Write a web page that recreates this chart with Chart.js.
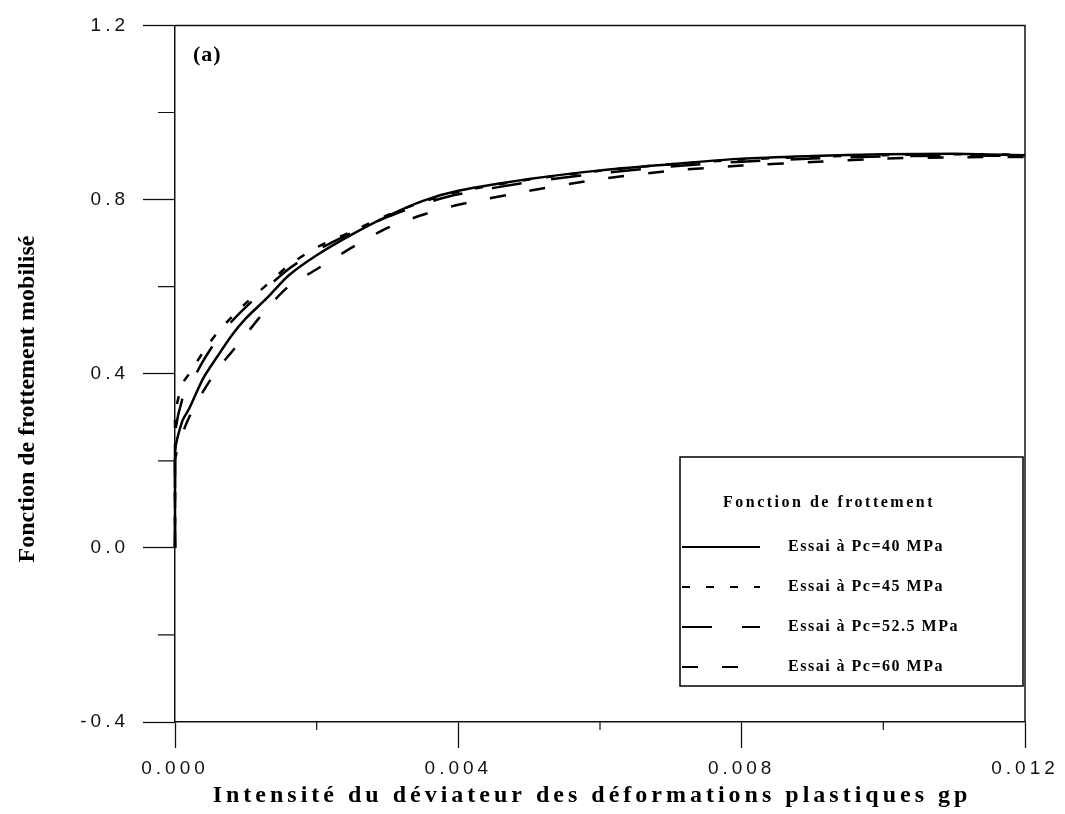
<!DOCTYPE html>
<html>
<head>
<meta charset="utf-8">
<script src="https://cdn.jsdelivr.net/npm/chart.js@4.4.1/dist/chart.umd.min.js"></script>
<style>
  html, body { margin: 0; padding: 0; background: #fff; }
</style>
</head>
<body>
<canvas id="frottement" width="1065" height="814"></canvas>
<script>
// deformation plastique gp (x) et fonction de frottement (y) pour chaque essai
const gp = [0, 0, 0.0001, 0.0002, 0.0004, 0.0006, 0.0008, 0.001, 0.0013, 0.0016, 0.002, 0.0025,
            0.003, 0.0035, 0.004, 0.005, 0.006, 0.007, 0.008, 0.009, 0.01, 0.011, 0.012];
const pc40  = [0, 0.22, 0.29, 0.32, 0.39, 0.44, 0.488, 0.527, 0.574, 0.625, 0.672, 0.72,
               0.762, 0.797, 0.82, 0.847, 0.867, 0.881, 0.894, 0.9, 0.904, 0.905, 0.902];
const pc45  = [0, 0.3, 0.375, 0.4, 0.45, 0.495, 0.53, 0.562, 0.605, 0.648, 0.69, 0.727,
               0.764, 0.795, 0.818, 0.846, 0.866, 0.881, 0.892, 0.898, 0.902, 0.904, 0.903];
const pc525 = [0, 0.26, 0.34, 0.37, 0.43, 0.48, 0.52, 0.553, 0.598, 0.64, 0.683, 0.724,
               0.76, 0.79, 0.812, 0.84, 0.86, 0.876, 0.887, 0.894, 0.899, 0.901, 0.9];
const pc60  = [0, 0.2, 0.26, 0.3, 0.36, 0.41, 0.45, 0.49, 0.55, 0.6, 0.64, 0.69,
               0.735, 0.765, 0.788, 0.82, 0.847, 0.866, 0.878, 0.886, 0.894, 0.897, 0.898];

const seriesNames = ["Essai à Pc=40 MPa", "Essai à Pc=45 MPa", "Essai à Pc=52.5 MPa", "Essai à Pc=60 MPa"];
const xTickValues = [0, 0.004, 0.008, 0.012];
const yTickValues = [-0.4, 0, 0.4, 0.8, 1.2];
const xMinorValues = [0.002, 0.006, 0.01];
const yMinorValues = [-0.2, 0.2, 0.6, 1.0];

const xTitle = "Intensité du déviateur des déformations plastiques gp";
const yTitle = "Fonction de frottement mobilisé";
const legendTitle = "Fonction de frottement";
const panelLabel = "(a)";

const serif = "'Liberation Serif', 'Times New Roman', serif";
const sans = "'Liberation Sans', Arial, sans-serif";

function points(ys) {
    return gp.map((x, i) => ({x: x, y: ys[i]}));
}

function line(label, ys, dash) {
    return {
        label: label,
        data: points(ys),
        showLine: true,
        borderColor: '#000',
        borderWidth: 2.5,
        borderDash: dash,
        pointRadius: 0,
        tension: 0.25,
        clip: 3
    };
}

// graduations secondaires, cadre, titres d'axes, "(a)" et legende encadree
const decor = {
    id: 'decor',
    beforeDraw(chart) {
        chart.ctx.letterSpacing = '4px';
    },
    afterDraw(chart) {
        const ctx = chart.ctx;
        const a = chart.chartArea;
        const xs = chart.scales.x, ys = chart.scales.y;
        ctx.save();
        ctx.strokeStyle = '#111';
        ctx.lineWidth = 1.5;
        ctx.beginPath();
        ctx.moveTo(a.left, a.top);
        ctx.lineTo(a.right, a.top);
        ctx.lineTo(a.right, a.bottom);
        ctx.stroke();

        ctx.lineWidth = 1.2;
        ctx.beginPath();
        xMinorValues.forEach(v => {
            const px = xs.getPixelForValue(v);
            ctx.moveTo(px, a.bottom);
            ctx.lineTo(px, a.bottom + 8);
        });
        yMinorValues.forEach(v => {
            const py = ys.getPixelForValue(v);
            ctx.moveTo(a.left, py);
            ctx.lineTo(a.left - 17, py);
        });
        ctx.stroke();

        ctx.fillStyle = '#000';
        ctx.textBaseline = 'middle';
        ctx.textAlign = 'center';
        ctx.letterSpacing = '4px';
        ctx.font = "bold 24px " + serif;
        ctx.fillText(xTitle, (a.left + a.right) / 2 - 8, 796);

        ctx.save();
        ctx.letterSpacing = '0px';
        ctx.font = "bold 24px " + serif;
        ctx.translate(28, 399);
        ctx.rotate(-Math.PI / 2);
        ctx.fillText(yTitle, 0, 0);
        ctx.restore();

        ctx.textAlign = 'left';
        ctx.letterSpacing = '1px';
        ctx.font = "bold 22px " + serif;
        ctx.fillText(panelLabel, a.left + 18, a.top + 30);

        // legende
        const bx = a.right - 345, by = 457, bw = 343, bh = 229;
        ctx.fillStyle = '#fff';
        ctx.fillRect(bx, by, bw, bh);
        ctx.strokeStyle = '#000';
        ctx.lineWidth = 1.5;
        ctx.strokeRect(bx, by, bw, bh);
        ctx.fillStyle = '#000';
        ctx.font = "bold 16px " + serif;
        ctx.letterSpacing = '2.5px';
        ctx.fillText(legendTitle, bx + 43, by + 46);
        ctx.letterSpacing = '1.5px';
        chart.data.datasets.forEach((ds, i) => {
            const y = by + 90 + i * 40;
            ctx.save();
            ctx.setLineDash(ds.borderDash || []);
            ctx.lineWidth = 2;
            ctx.beginPath();
            ctx.moveTo(bx + 2, y);
            ctx.lineTo(bx + 80, y);
            ctx.stroke();
            ctx.restore();
            ctx.fillText(ds.label, bx + 108, y);
        });
        ctx.restore();
    }
};

new Chart(document.getElementById('frottement'), {
    type: 'scatter',
    data: {
        datasets: [
            line(seriesNames[0], pc40, []),
            line(seriesNames[1], pc45, [8, 16]),
            line(seriesNames[2], pc525, [30, 30]),
            line(seriesNames[3], pc60, [16, 24])
        ]
    },
    options: {
        responsive: false,
        animation: false,
        layout: {padding: {top: 21, right: 40, left: 0, bottom: 0}},
        plugins: {
            legend: {display: false},
            tooltip: {enabled: false}
        },
        scales: {
            x: {
                type: 'linear',
                min: 0,
                max: 0.012,
                afterBuildTicks: s => { s.ticks = xTickValues.map(v => ({value: v})); },
                afterFit: s => { s.height = 92; },
                ticks: {
                    autoSkip: false,
                    maxRotation: 0,
                    padding: 9,
                    color: '#111',
                    font: {family: sans, size: 19},
                    callback: v => v.toFixed(3)
                },
                grid: {drawOnChartArea: false, tickLength: 26, color: '#111', tickWidth: 1.3},
                border: {color: '#111', width: 1.5}
            },
            y: {
                min: -0.4,
                max: 1.2,
                afterBuildTicks: s => { s.ticks = yTickValues.map(v => ({value: v})); },
                afterFit: s => { s.width = 175; },
                ticks: {
                    autoSkip: false,
                    padding: 14,
                    color: '#111',
                    font: {family: sans, size: 19},
                    callback: v => (Math.abs(v) < 1e-9 ? 0 : v).toFixed(1)
                },
                grid: {drawOnChartArea: false, tickLength: 32, color: '#111', tickWidth: 1.3},
                border: {color: '#111', width: 1.5}
            }
        }
    },
    plugins: [decor]
});
</script>
</body>
</html>
